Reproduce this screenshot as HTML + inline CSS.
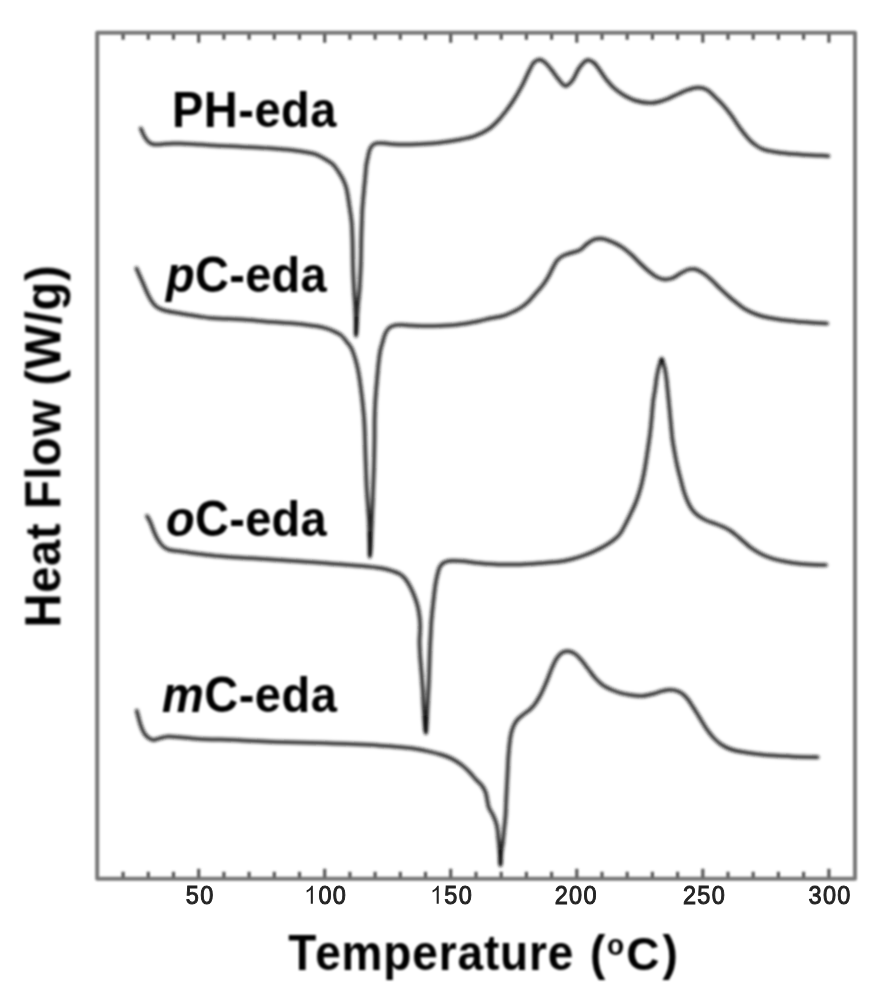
<!DOCTYPE html>
<html><head><meta charset="utf-8"><style>
html,body{margin:0;padding:0;background:#fff;}
body{width:882px;height:1002px;overflow:hidden;}
svg{display:block;}
text{font-family:"Liberation Sans",sans-serif;}
</style></head><body>
<svg width="882" height="1002" viewBox="0 0 882 1002">
<defs><filter id="b" x="-5%" y="-5%" width="110%" height="110%"><feGaussianBlur stdDeviation="0.9"/></filter><filter id="bf" x="-5%" y="-5%" width="110%" height="110%"><feGaussianBlur stdDeviation="0.5"/></filter><filter id="bc" x="-5%" y="-5%" width="110%" height="110%"><feGaussianBlur stdDeviation="1.0"/></filter><filter id="bl" x="-5%" y="-5%" width="110%" height="110%"><feGaussianBlur stdDeviation="0.75"/></filter><filter id="bt" x="-5%" y="-5%" width="110%" height="110%"><feGaussianBlur stdDeviation="0.85"/></filter></defs>
<rect width="882" height="1002" fill="#fff"/>
<g filter="url(#b)">
<g fill="none" stroke="#777" stroke-width="4" stroke-linejoin="round" filter="url(#bf)">
<rect x="97.2" y="32.7" width="757.8" height="846"/>
<path d="M123.1 877.5 V871.7 M148.3 877.5 V871.7 M173.5 877.5 V871.7 M198.7 877.5 V868.7 M223.9 877.5 V871.7 M249.1 877.5 V871.7 M274.3 877.5 V871.7 M299.5 877.5 V871.7 M324.7 877.5 V868.7 M349.9 877.5 V871.7 M375.1 877.5 V871.7 M400.3 877.5 V871.7 M425.5 877.5 V871.7 M450.7 877.5 V868.7 M476.0 877.5 V871.7 M501.2 877.5 V871.7 M526.4 877.5 V871.7 M551.6 877.5 V871.7 M576.8 877.5 V868.7 M602.0 877.5 V871.7 M627.2 877.5 V871.7 M652.4 877.5 V871.7 M677.6 877.5 V871.7 M702.8 877.5 V868.7 M728.0 877.5 V871.7 M753.2 877.5 V871.7 M778.4 877.5 V871.7 M803.6 877.5 V871.7 M828.9 877.5 V868.7 M123.1 34 V39.7 M148.3 34 V39.7 M173.5 34 V39.7 M198.7 34 V42.7 M223.9 34 V39.7 M249.1 34 V39.7 M274.3 34 V39.7 M299.5 34 V39.7 M324.7 34 V42.7 M349.9 34 V39.7 M375.1 34 V39.7 M400.3 34 V39.7 M425.5 34 V39.7 M450.7 34 V42.7 M476.0 34 V39.7 M501.2 34 V39.7 M526.4 34 V39.7 M551.6 34 V39.7 M576.8 34 V42.7 M602.0 34 V39.7 M627.2 34 V39.7 M652.4 34 V39.7 M677.6 34 V39.7 M702.8 34 V42.7 M728.0 34 V39.7 M753.2 34 V39.7 M778.4 34 V39.7 M803.6 34 V39.7 M828.9 34 V42.7" stroke-width="3.2" stroke="#555"/>
</g>
<g fill="none" stroke="#1a1a1a" stroke-width="3.5" filter="url(#bc)" stroke-linejoin="round" stroke-linecap="round">
<path d="M140.8 128.5 C141.1 129.2 141.9 131.1 142.5 132.5 C143.2 134.0 143.8 135.5 144.7 137.0 C145.7 138.5 146.7 140.3 148.1 141.5 C149.4 142.7 151.0 143.8 152.7 144.3 C154.4 144.8 156.4 144.5 158.3 144.5 C160.2 144.5 161.9 144.2 164.0 144.0 C166.4 143.8 169.3 143.5 172.0 143.4 C174.9 143.3 177.7 143.5 181.0 143.6 C185.1 143.7 190.3 144.0 194.8 144.2 C199.0 144.4 202.9 144.8 207.0 145.0 C211.2 145.3 215.6 145.5 219.8 145.7 C223.9 145.9 227.9 146.1 232.0 146.3 C236.2 146.5 240.5 146.7 244.7 146.9 C248.8 147.1 252.9 147.3 257.0 147.5 C261.2 147.7 265.4 147.9 269.6 148.2 C273.8 148.5 277.9 148.8 282.0 149.2 C286.2 149.6 290.6 149.9 294.6 150.4 C298.2 150.9 301.6 151.4 305.0 152.0 C308.2 152.6 311.7 153.0 314.5 153.9 C316.9 154.7 318.9 155.6 321.0 156.7 C323.1 157.8 325.0 159.0 327.0 160.3 C329.0 161.6 331.0 162.6 332.8 164.3 C334.8 166.2 336.6 169.0 338.3 171.5 C340.0 174.0 341.7 176.8 343.0 179.5 C344.3 182.1 345.3 184.3 346.2 187.5 C347.5 192.2 348.3 199.1 349.2 205.0 C350.1 210.9 351.2 217.0 351.7 222.9 C352.2 228.7 352.3 234.3 352.5 240.0 C352.7 245.7 352.7 251.5 352.8 257.0 C352.9 262.2 353.0 266.8 353.2 272.0 C353.4 277.7 353.7 284.3 354.0 290.0 C354.3 295.2 354.7 300.0 355.0 305.0 C355.3 310.0 355.5 314.9 355.7 320.0 C355.9 325.2 355.8 336.0 356.0 336.0 C356.2 336.0 356.7 325.2 357.0 320.0 C357.3 314.9 357.6 310.0 358.0 305.0 C358.4 300.0 359.1 295.2 359.5 290.0 C359.9 284.3 360.2 277.7 360.5 272.0 C360.7 266.8 360.9 262.2 361.0 257.0 C361.1 251.5 361.2 245.7 361.3 240.0 C361.4 234.3 361.6 228.2 361.8 222.9 C362.0 218.3 362.1 214.1 362.3 209.9 C362.5 206.0 362.9 202.4 363.2 198.6 C363.5 194.9 363.9 191.1 364.2 187.4 C364.6 183.7 365.0 179.9 365.3 176.2 C365.7 172.4 365.8 168.2 366.3 164.9 C366.7 162.3 367.2 160.2 367.7 158.0 C368.1 155.9 368.5 153.8 369.0 152.0 C369.4 150.5 369.9 149.2 370.5 148.0 C371.1 146.9 371.7 146.0 372.5 145.2 C373.4 144.4 374.4 143.8 375.6 143.4 C376.9 143.0 378.5 142.9 380.0 142.9 C381.6 142.9 383.3 143.0 385.0 143.2 C386.8 143.4 388.6 143.8 390.7 144.0 C393.1 144.2 395.7 144.3 398.6 144.4 C402.2 144.5 406.7 144.5 410.6 144.4 C414.4 144.3 418.1 144.2 422.0 144.0 C426.0 143.8 430.2 143.7 434.4 143.3 C438.8 142.9 443.5 142.3 448.0 141.6 C452.5 140.9 457.1 140.2 461.6 139.3 C466.2 138.3 470.8 137.6 475.2 135.9 C479.8 134.2 484.8 131.8 488.8 129.0 C492.5 126.5 495.5 123.3 498.4 120.2 C501.2 117.3 503.5 114.2 506.0 111.0 C508.5 107.7 510.9 104.4 513.4 100.5 C516.4 95.9 519.7 90.1 522.4 85.0 C525.0 80.1 527.2 74.5 529.3 70.4 C530.9 67.3 531.9 64.3 533.8 62.5 C535.4 60.9 537.6 59.5 539.5 59.5 C541.4 59.5 543.3 61.0 545.1 62.5 C547.4 64.4 549.7 67.6 551.9 70.4 C554.2 73.3 556.3 76.8 558.7 79.5 C560.9 81.9 563.2 85.9 565.5 86.0 C567.7 86.1 570.3 83.0 572.3 80.6 C574.9 77.5 576.5 71.6 579.1 68.1 C581.4 65.0 584.3 60.8 587.0 60.2 C589.1 59.7 591.3 60.8 593.6 62.5 C597.4 65.3 601.7 73.8 605.4 78.4 C608.4 82.1 610.9 85.2 614.0 88.0 C617.0 90.7 620.1 92.9 623.5 95.0 C627.1 97.1 630.8 99.2 635.0 100.5 C639.7 102.0 646.1 103.0 650.7 103.0 C654.2 103.0 657.0 102.3 660.0 101.5 C663.0 100.7 665.9 99.5 668.9 98.3 C671.9 97.0 675.0 95.4 678.0 94.0 C681.0 92.7 683.8 91.2 687.0 90.2 C690.4 89.1 694.4 87.6 697.9 87.6 C701.1 87.6 704.2 88.3 707.0 89.8 C710.0 91.4 712.3 94.4 715.0 97.0 C718.0 99.8 721.2 102.9 724.0 106.1 C726.8 109.3 729.5 112.9 732.0 116.3 C734.4 119.7 736.4 123.1 738.8 126.5 C741.3 129.9 744.1 133.7 746.7 136.7 C749.0 139.3 750.9 141.5 753.5 143.5 C756.2 145.7 759.2 147.8 762.6 149.2 C766.3 150.7 770.6 151.3 775.0 152.0 C779.7 152.8 784.8 153.2 790.0 153.7 C795.7 154.2 802.4 154.6 808.0 154.9 C812.8 155.2 817.8 155.4 821.6 155.6 C824.3 155.7 827.3 155.9 828.4 156.0"/><path d="M136.5 268.4 C137.1 269.7 138.8 273.6 139.9 276.2 C141.0 278.8 142.1 281.2 143.3 284.0 C144.7 287.1 146.2 290.9 147.7 294.0 C149.1 296.8 150.4 299.6 152.0 301.8 C153.3 303.7 154.5 305.4 156.3 306.7 C158.2 308.1 160.4 309.1 163.1 310.0 C166.8 311.3 172.4 312.0 176.7 312.8 C180.6 313.5 184.2 314.1 188.0 314.7 C191.8 315.3 195.6 316.0 199.4 316.5 C203.2 317.0 207.1 317.6 210.7 317.9 C213.9 318.2 216.2 318.3 220.0 318.5 C225.9 318.8 235.1 319.1 242.7 319.6 C250.3 320.1 257.8 320.8 265.4 321.4 C272.9 322.0 280.9 322.4 288.0 323.0 C294.4 323.5 300.6 324.1 306.2 324.8 C311.1 325.4 316.1 325.9 320.0 326.7 C322.8 327.3 324.9 327.9 327.3 328.7 C329.7 329.5 332.2 330.5 334.5 331.6 C336.7 332.6 339.0 333.5 340.9 335.0 C342.9 336.6 344.6 339.2 346.3 341.3 C348.0 343.4 349.6 345.0 351.0 347.5 C352.7 350.6 354.1 355.2 355.3 359.0 C356.4 362.7 357.3 366.4 358.0 370.0 C358.7 373.4 359.1 376.1 359.7 380.0 C360.5 385.5 361.5 393.3 362.3 400.0 C363.0 406.7 363.7 413.3 364.2 420.0 C364.6 426.7 364.8 433.3 365.0 440.0 C365.2 446.7 365.4 453.7 365.6 460.0 C365.8 465.6 366.0 470.8 366.2 476.0 C366.4 480.8 366.5 485.3 366.8 490.0 C367.1 494.7 367.5 499.3 367.8 504.0 C368.1 508.7 368.5 513.3 368.8 518.0 C369.1 522.7 369.2 527.4 369.4 532.0 C369.6 536.4 369.7 540.8 369.8 545.0 C369.9 549.1 369.8 557.0 370.0 557.0 C370.2 557.0 370.7 549.1 370.9 545.0 C371.1 540.8 371.2 536.4 371.4 532.0 C371.6 527.4 371.8 522.7 372.0 518.0 C372.2 513.3 372.4 508.7 372.6 504.0 C372.8 499.3 372.9 494.7 373.1 490.0 C373.3 485.3 373.4 480.8 373.6 476.0 C373.8 470.8 374.0 465.6 374.1 460.0 C374.3 453.7 374.4 446.7 374.5 440.0 C374.6 433.3 374.5 426.7 374.6 420.0 C374.7 413.3 375.0 406.7 375.4 400.0 C375.8 393.3 376.4 386.7 377.0 380.0 C377.6 373.3 378.2 365.5 378.9 360.0 C379.4 356.1 379.7 353.1 380.4 350.0 C381.0 347.2 381.8 344.9 382.6 342.2 C383.4 339.4 384.1 336.1 385.3 333.6 C386.3 331.5 387.3 329.4 388.9 328.0 C390.4 326.7 392.5 325.9 394.4 325.4 C396.2 324.9 397.8 324.8 400.0 324.8 C403.1 324.7 407.5 325.3 411.3 325.5 C415.1 325.7 418.9 325.8 422.7 325.9 C426.5 326.0 430.2 326.0 434.0 325.9 C437.8 325.8 441.6 325.7 445.4 325.5 C449.2 325.3 452.9 325.1 456.7 324.7 C460.5 324.3 464.2 323.8 468.0 323.2 C471.8 322.6 475.6 321.8 479.4 321.0 C483.2 320.2 486.9 319.1 490.7 318.3 C494.6 317.5 498.8 317.2 502.7 316.0 C506.6 314.9 510.6 313.0 514.0 311.4 C516.9 310.0 519.5 308.6 522.0 306.9 C524.4 305.2 526.5 303.4 528.8 301.2 C531.4 298.6 534.2 295.1 536.7 292.2 C539.1 289.5 541.4 287.0 543.5 284.2 C545.6 281.3 547.5 278.2 549.2 275.1 C550.9 272.1 552.3 268.7 553.7 266.1 C554.9 264.0 555.6 262.1 557.1 260.4 C558.8 258.5 561.5 256.5 563.9 255.3 C566.1 254.2 568.3 253.8 570.7 253.0 C573.6 252.1 577.3 251.5 580.0 250.0 C582.6 248.5 584.5 245.8 586.8 244.0 C589.0 242.3 591.2 240.6 593.6 239.7 C595.8 238.9 598.1 238.6 600.4 238.6 C602.7 238.6 604.9 239.3 607.2 240.0 C609.8 240.8 612.7 242.1 615.4 243.4 C618.2 244.8 620.9 246.3 623.5 248.1 C626.3 250.1 629.0 252.5 631.7 254.9 C634.5 257.4 637.1 260.5 639.9 263.1 C642.6 265.7 645.2 268.3 648.0 270.6 C650.7 272.8 653.3 275.2 656.2 276.7 C658.8 278.1 661.6 279.2 664.4 279.4 C667.1 279.6 669.9 279.0 672.5 278.1 C675.3 277.1 677.9 274.8 680.7 273.3 C683.4 271.9 686.2 270.0 688.8 269.4 C691.1 268.9 693.1 268.8 695.4 269.3 C698.1 269.9 701.0 271.7 703.6 273.4 C706.4 275.3 709.1 277.8 711.8 280.2 C714.6 282.7 717.2 285.7 719.9 288.3 C722.6 290.9 725.3 293.4 728.1 295.8 C730.8 298.2 733.5 300.4 736.3 302.6 C739.0 304.7 741.6 307.0 744.4 308.7 C747.1 310.3 749.7 311.6 752.6 312.8 C755.6 314.1 758.9 315.3 762.1 316.2 C765.2 317.1 768.1 317.7 771.6 318.3 C775.7 319.1 780.7 319.7 785.2 320.3 C789.7 320.9 794.5 321.3 798.8 321.7 C802.7 322.0 805.9 322.2 810.0 322.5 C815.1 322.8 824.3 323.3 827.1 323.5"/><path d="M147.0 516.0 C147.6 517.0 149.3 519.9 150.4 522.2 C151.6 524.9 152.5 528.3 153.8 531.3 C155.1 534.4 156.5 537.7 158.3 540.4 C160.0 542.9 161.9 545.6 164.0 547.2 C165.8 548.6 167.4 549.3 169.7 550.0 C172.8 550.9 177.2 551.0 181.0 551.5 C184.8 552.0 188.6 552.7 192.4 553.2 C196.2 553.7 199.9 554.2 203.7 554.6 C207.5 555.0 211.0 555.4 215.0 555.8 C219.6 556.2 224.5 556.6 230.0 557.0 C236.8 557.5 245.1 557.8 252.7 558.3 C260.3 558.8 267.8 559.3 275.4 559.8 C282.9 560.3 290.5 560.7 298.0 561.2 C305.6 561.7 313.1 562.3 320.7 562.8 C328.3 563.4 335.8 563.9 343.4 564.5 C350.9 565.1 358.9 565.6 366.0 566.4 C372.4 567.1 379.3 567.8 384.2 568.8 C387.6 569.5 390.1 570.3 392.7 571.2 C395.0 572.0 397.1 572.5 399.0 573.6 C401.0 574.7 402.9 576.2 404.5 578.0 C406.2 579.9 407.6 582.1 409.0 584.6 C410.6 587.4 412.2 590.7 413.5 594.0 C414.9 597.4 416.2 601.0 417.2 604.5 C418.2 608.0 418.8 611.4 419.3 615.0 C419.8 618.6 420.1 622.0 420.2 626.0 C420.3 630.7 419.5 636.0 419.5 641.2 C419.5 646.7 419.9 652.5 420.3 658.1 C420.7 663.8 421.3 669.4 421.7 675.1 C422.1 680.7 422.6 686.4 422.9 692.0 C423.2 697.7 423.3 702.8 423.7 709.0 C424.2 716.4 425.2 733.2 425.8 733.2 C426.2 733.2 426.5 726.5 426.8 722.5 C427.2 717.5 427.3 711.2 427.6 705.6 C427.9 699.9 428.2 694.3 428.5 688.6 C428.8 683.0 429.0 677.3 429.2 671.7 C429.4 666.0 429.5 660.4 429.7 654.7 C429.9 649.1 430.2 643.4 430.5 637.8 C430.8 632.1 431.0 626.5 431.4 620.8 C431.9 614.9 432.5 609.0 433.2 603.0 C433.9 596.8 434.6 589.5 435.5 584.0 C436.2 579.8 437.0 576.0 437.8 573.0 C438.4 570.8 438.7 569.1 439.5 567.5 C440.3 566.0 441.3 564.5 442.6 563.5 C443.9 562.5 445.5 561.8 447.1 561.3 C448.8 560.8 450.5 560.9 452.7 560.8 C455.8 560.7 460.2 560.9 464.0 561.2 C467.8 561.5 470.9 562.3 475.4 562.8 C481.6 563.5 490.5 564.1 498.0 564.4 C505.6 564.7 513.1 564.6 520.7 564.4 C528.3 564.2 536.4 563.5 543.4 563.0 C549.4 562.5 555.0 562.2 560.0 561.5 C564.1 560.9 567.5 560.1 571.3 559.2 C575.1 558.2 578.9 557.1 582.7 555.8 C586.5 554.5 590.3 553.0 594.0 551.3 C597.8 549.6 601.9 547.7 605.4 545.6 C608.6 543.7 611.8 541.5 614.4 539.4 C616.6 537.6 618.4 535.9 620.1 533.7 C621.9 531.4 623.1 528.7 624.6 525.8 C626.4 522.4 628.4 518.3 630.3 514.4 C632.2 510.4 634.3 506.3 636.0 502.0 C637.7 497.6 639.2 493.0 640.5 488.3 C641.8 483.5 642.9 478.4 643.9 473.6 C644.8 469.0 645.5 464.6 646.2 460.0 C646.9 455.4 647.6 450.5 648.3 446.0 C648.9 441.8 649.5 438.2 650.0 434.0 C650.6 429.5 651.0 425.1 651.5 420.0 C652.1 413.9 652.6 405.5 653.3 400.0 C653.8 396.1 654.5 393.3 655.0 390.0 C655.5 386.7 655.9 382.9 656.3 380.0 C656.6 377.7 656.9 375.9 657.3 374.0 C657.6 372.3 658.0 370.7 658.4 369.0 C658.8 367.2 659.3 365.3 659.9 363.5 C660.4 361.8 661.1 358.4 661.7 358.4 C662.3 358.4 662.9 361.8 663.4 363.5 C663.9 365.3 664.5 367.2 664.9 369.0 C665.3 370.7 665.5 372.3 665.8 374.0 C666.1 375.9 666.3 377.7 666.6 380.0 C666.9 382.9 667.3 386.7 667.6 390.0 C667.9 393.3 668.3 396.7 668.6 400.0 C668.9 403.3 669.2 406.3 669.6 410.0 C670.0 414.5 670.5 420.0 671.0 425.0 C671.5 430.0 671.9 435.6 672.5 440.0 C673.0 443.4 673.5 445.9 674.0 449.0 C674.6 452.5 675.3 456.4 676.0 460.0 C676.7 463.4 677.4 466.7 678.2 470.0 C679.0 473.3 679.9 476.6 680.8 480.0 C681.7 483.6 682.6 487.5 683.7 491.0 C684.7 494.2 685.8 497.2 687.0 500.0 C688.1 502.6 689.3 505.3 690.7 507.5 C692.0 509.5 693.4 511.4 695.0 513.0 C696.6 514.6 698.6 516.0 700.5 517.3 C702.4 518.5 704.4 519.6 706.5 520.5 C708.6 521.4 710.6 522.0 713.1 522.9 C716.3 524.1 720.9 525.7 724.2 527.3 C726.9 528.6 729.2 529.9 731.5 531.5 C733.8 533.1 736.0 535.1 738.2 536.9 C740.3 538.7 742.4 540.5 744.5 542.3 C746.7 544.2 748.8 546.3 751.4 548.2 C754.4 550.3 758.1 552.6 761.6 554.3 C764.9 556.0 768.1 557.2 771.8 558.4 C776.1 559.8 781.2 560.9 786.1 561.8 C791.3 562.8 796.5 563.4 802.4 563.9 C809.5 564.5 822.0 564.9 825.9 565.1"/><path d="M136.8 710.7 C137.1 711.9 137.9 715.3 138.6 717.8 C139.3 720.5 139.9 723.4 141.0 726.2 C142.1 729.0 143.4 732.4 145.1 734.6 C146.5 736.4 148.3 737.9 149.9 738.8 C151.1 739.5 152.1 740.0 153.5 740.0 C155.2 740.1 157.3 738.9 159.5 738.4 C162.1 737.8 164.8 736.8 167.9 736.6 C171.5 736.3 175.9 737.0 179.9 737.3 C183.9 737.6 187.9 738.1 191.9 738.4 C195.9 738.7 199.5 739.0 203.8 739.2 C208.8 739.4 214.1 739.4 220.0 739.6 C226.9 739.8 235.1 740.1 242.7 740.4 C250.3 740.7 257.8 741.2 265.4 741.5 C272.9 741.8 280.5 742.0 288.0 742.2 C295.6 742.4 303.1 742.5 310.7 742.7 C318.3 742.9 325.8 743.1 333.4 743.4 C340.9 743.7 348.5 744.0 356.0 744.3 C363.6 744.6 371.1 744.9 378.7 745.4 C386.3 745.9 395.0 746.6 401.4 747.2 C406.1 747.6 409.4 747.8 413.6 748.4 C418.0 749.1 422.7 750.1 427.2 751.1 C431.7 752.1 436.6 753.2 440.8 754.5 C444.7 755.7 448.3 756.9 451.7 758.6 C455.1 760.3 458.1 762.3 461.2 764.7 C464.5 767.2 468.0 770.7 470.7 773.5 C472.9 775.8 474.4 778.0 476.3 780.0 C478.1 781.9 480.2 783.3 481.7 785.4 C483.3 787.5 484.7 790.0 485.7 792.6 C486.7 795.4 486.9 798.9 487.5 801.6 C488.0 803.9 488.1 805.9 488.9 807.9 C489.7 810.0 491.4 811.9 492.5 814.1 C493.6 816.4 494.8 818.9 495.6 821.3 C496.4 823.7 497.0 825.9 497.4 828.5 C497.9 831.3 498.0 834.5 498.3 837.5 C498.6 840.5 498.9 843.4 499.2 846.5 C499.5 849.7 499.9 853.2 500.1 856.4 C500.3 859.5 500.2 865.5 500.4 865.5 C500.6 865.5 500.9 856.0 501.4 851.9 C501.8 848.6 502.4 845.9 502.8 842.9 C503.2 839.9 503.4 836.9 503.7 833.9 C504.0 830.9 504.3 827.9 504.6 824.9 C504.9 821.9 505.3 818.9 505.5 815.9 C505.7 812.9 505.8 810.0 505.9 807.0 C506.0 804.0 506.2 801.0 506.3 798.0 C506.4 795.0 506.6 792.0 506.7 789.0 C506.9 786.0 507.0 783.1 507.2 780.0 C507.4 776.7 507.5 773.6 507.7 769.9 C507.9 765.4 508.1 759.9 508.5 754.9 C508.9 749.9 509.4 744.1 510.0 739.9 C510.4 736.8 510.8 734.4 511.5 731.9 C512.2 729.5 512.9 727.2 514.0 725.0 C515.1 722.9 516.4 720.8 518.0 719.0 C519.7 717.1 522.0 715.6 524.0 714.0 C526.0 712.4 528.2 711.2 530.0 709.5 C531.8 707.8 533.4 706.2 535.0 704.0 C537.0 701.3 539.0 697.8 540.8 694.4 C542.8 690.6 544.5 686.4 546.3 682.2 C548.2 677.8 549.8 672.8 551.7 668.6 C553.4 664.7 555.0 660.6 557.1 657.7 C558.8 655.4 560.5 653.3 562.6 652.2 C564.4 651.3 566.7 651.0 568.7 651.2 C570.8 651.4 572.8 652.3 574.8 653.6 C577.2 655.2 579.4 657.9 581.6 660.4 C584.0 663.1 586.1 666.3 588.4 669.3 C590.7 672.2 592.7 675.4 595.2 678.1 C597.7 680.8 600.6 683.6 603.4 685.6 C605.8 687.3 608.2 688.3 610.9 689.5 C614.0 690.8 617.5 692.2 620.9 693.1 C624.4 694.1 628.2 694.7 631.8 695.2 C635.4 695.7 639.1 696.1 642.7 695.9 C646.3 695.7 650.2 694.7 653.5 693.8 C656.4 693.0 658.8 691.8 661.7 691.1 C664.7 690.4 668.2 689.5 671.2 689.7 C674.0 689.8 676.9 690.6 679.4 691.8 C681.9 693.1 684.1 694.9 686.2 697.2 C688.7 699.8 690.8 703.6 693.0 707.0 C695.3 710.5 697.5 714.3 699.8 718.0 C702.1 721.7 704.2 725.6 706.6 729.0 C708.8 732.1 710.9 735.0 713.4 737.6 C715.9 740.2 718.7 742.9 721.6 744.8 C724.3 746.6 726.9 747.9 730.0 749.0 C733.5 750.3 737.0 751.0 741.5 751.8 C747.6 753.0 755.6 754.0 763.3 754.8 C771.9 755.6 781.4 756.0 790.5 756.4 C799.6 756.8 813.2 757.1 817.7 757.2"/>
</g>
<g fill="none" stroke="#000" stroke-width="2.6" stroke-linecap="round" filter="url(#bc)">
<path d="M356.4 318 L356 333.5 M369.5 533 L369.9 555 M425.2 717 L425.7 731.5 M500.2 851 L500.4 864 M661.3 360.6 L662.1 360.6"/>
</g>
</g>
<g font-size="23.5" fill="#222" stroke="#222" stroke-width="0.9" filter="url(#bl)"><text transform="translate(185.78,903.8) scale(1,1.07)">5</text><text transform="translate(200.15,903.8) scale(1,1.07)">0</text><path transform="translate(304.10,903.8) scale(0.01147,-0.01228)" d="M763 0L583 0L583 1147Q518 1085 412 1023Q306 961 222 930L222 1104Q373 1175 486 1276Q599 1377 646 1472L763 1472Z"/><text transform="translate(318.47,903.8) scale(1,1.07)">0</text><text transform="translate(332.83,903.8) scale(1,1.07)">0</text><path transform="translate(430.00,903.8) scale(0.01147,-0.01228)" d="M763 0L583 0L583 1147Q518 1085 412 1023Q306 961 222 930L222 1104Q373 1175 486 1276Q599 1377 646 1472L763 1472Z"/><text transform="translate(444.37,903.8) scale(1,1.07)">5</text><text transform="translate(458.73,903.8) scale(1,1.07)">0</text><text transform="translate(554.70,903.8) scale(1,1.07)">2</text><text transform="translate(569.07,903.8) scale(1,1.07)">0</text><text transform="translate(583.43,903.8) scale(1,1.07)">0</text><text transform="translate(682.90,903.8) scale(1,1.07)">2</text><text transform="translate(697.27,903.8) scale(1,1.07)">5</text><text transform="translate(711.63,903.8) scale(1,1.07)">0</text><text transform="translate(808.60,903.8) scale(1,1.07)">3</text><text transform="translate(822.97,903.8) scale(1,1.07)">0</text><text transform="translate(837.33,903.8) scale(1,1.07)">0</text></g>
<g filter="url(#bt)">
<g font-weight="bold" fill="#000">
<text transform="translate(172.00,126.60) scale(1,1.050)" font-size="47.0" letter-spacing="0.50" >PH-eda</text>
<text transform="translate(166.00,291.80) scale(1,1.050)" font-size="47.0" letter-spacing="0.30" ><tspan font-style="italic">p</tspan>C-eda</text>
<text transform="translate(166.00,535.80) scale(1,1.050)" font-size="47.0" letter-spacing="0.30" ><tspan font-style="italic">o</tspan>C-eda</text>
<text transform="translate(162.00,712.30) scale(1,1.050)" font-size="47.0" letter-spacing="0.50" ><tspan font-style="italic">m</tspan>C-eda</text>
<text transform="translate(288.20,970.20) scale(1,1.090)" font-size="46.0" letter-spacing="0.85" >T<tspan dx="-2">e</tspan>mperature</text><text transform="translate(590.00,970.20) scale(1,1.070)" font-size="46.0" letter-spacing="0.00" >(</text><text transform="translate(607.00,955.00) scale(1,1.050)" font-size="28.0" letter-spacing="0.00" >o</text><text transform="translate(626.30,970.20) scale(1,1.020)" font-size="46.0" letter-spacing="0.00" >C</text><text transform="translate(662.60,970.20) scale(1,1.070)" font-size="46.0" letter-spacing="0.00" >)</text>
<text transform="translate(60.50,627.50) rotate(-90) scale(1,1.050)" font-size="47.0" letter-spacing="0.70" >Heat Flow (W/g)</text>
</g>
</g>
</svg>
</body></html>
